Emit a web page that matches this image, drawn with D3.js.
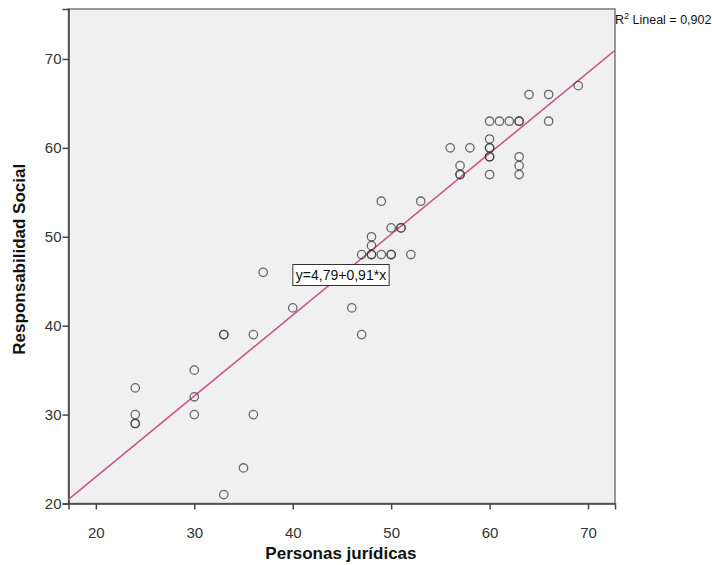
<!DOCTYPE html>
<html>
<head>
<meta charset="utf-8">
<script src="https://cdn.jsdelivr.net/npm/d3@7"></script>
<style>
  html, body { margin: 0; padding: 0; background: #ffffff; }
  svg { display: block; }
</style>
</head>
<body>
<svg id="chart" width="712" height="565"></svg>
<script>
// ---- data ----
const personasJuridicas = [24, 24, 24, 24, 30, 30, 30, 33, 33, 33, 35, 36, 36, 37, 40, 46, 47, 47,
  48, 48, 48, 48, 49, 49, 50, 50, 50, 51, 51, 52, 53, 56, 57, 57, 57, 58,
  60, 60, 60, 60, 60, 60, 60, 61, 62, 63, 63, 63, 63, 63, 64, 66, 66, 69];
const responsabilidadSocial = [33, 30, 29, 29, 35, 32, 30, 39, 39, 21, 24, 39, 30, 46, 42, 42, 39, 48,
  50, 49, 48, 48, 54, 48, 51, 48, 48, 51, 51, 48, 54, 60, 58, 57, 57, 60,
  63, 61, 60, 60, 59, 59, 57, 63, 63, 63, 63, 59, 58, 57, 66, 66, 63, 67];
const xTicks = [20, 30, 40, 50, 60, 70];
const yTicks = [20, 30, 40, 50, 60, 70];
const intercept = 4.79;
const slope = 0.91;
const fitLabel = "y=4,79+0,91*x";
const r2Label = "Lineal = 0,902";
const xTitle = "Personas jurídicas";
const yTitle = "Responsabilidad Social";

// ---- layout ----
const L = 68.5, R = 615, T = 9, B = 503.5;
const FONT = "'Liberation Sans', Arial, sans-serif";
const svg = d3.select("#chart");
const x = d3.scaleLinear().domain([17.22, 72.74]).range([L, R]);
const y = d3.scaleLinear().domain([20, 75.62]).range([B, T]);

// plot background
svg.append("rect").attr("x", L).attr("y", T).attr("width", R - L).attr("height", B - T)
  .attr("fill", "#f0f0f0").attr("stroke", "#7a7a7a").attr("stroke-width", 1.5);

// clip
svg.append("clipPath").attr("id", "clip").append("rect")
  .attr("x", L).attr("y", T).attr("width", R - L).attr("height", B - T);

// axes
const xAxis = d3.axisBottom(x).tickValues(xTicks).tickSize(6).tickFormat(d3.format("d"));
const yAxis = d3.axisLeft(y).tickValues(yTicks).tickSize(6).tickFormat(d3.format("d"));

const gx = svg.append("g").attr("transform", `translate(0,${B})`).call(xAxis);
const gy = svg.append("g").attr("transform", `translate(${L},0)`).call(yAxis);
[gx, gy].forEach(g => {
  g.select(".domain").attr("stroke", "#444").attr("stroke-width", 1.5);
  g.selectAll(".tick line").attr("stroke", "#444").attr("stroke-width", 1.5);
  g.selectAll(".tick text").attr("fill", "#333")
    .style("font-family", FONT).style("font-size", "15px");
});
gx.selectAll(".tick text").attr("dy", "0").attr("y", 34);
gy.selectAll(".tick text").attr("x", -7);

// fit line
const plot = svg.append("g").attr("clip-path", "url(#clip)");
const xd = x.domain();
plot.append("line")
  .attr("x1", x(xd[0])).attr("y1", y(intercept + slope * xd[0]))
  .attr("x2", x(xd[1])).attr("y2", y(intercept + slope * xd[1]))
  .attr("stroke", "#cc4f8a").attr("stroke-width", 1.5);

// points
plot.selectAll("circle.pt").data(personasJuridicas.map((d, i) => [d, responsabilidadSocial[i]]))
  .enter().append("circle").attr("class", "pt")
  .attr("cx", d => x(d[0])).attr("cy", d => y(d[1])).attr("r", 4.2)
  .attr("fill", "none").attr("stroke", "#3a3a3a").attr("stroke-opacity", 0.75).attr("stroke-width", 1.3);

// equation label
const lx = 341, ly = 275;
const lab = svg.append("g");
const t = lab.append("text").attr("x", lx).attr("y", ly).attr("text-anchor", "middle")
  .attr("dominant-baseline", "central")
  .style("font-family", FONT).style("font-size", "14px")
  .attr("fill", "#111").text(fitLabel);
const bb = t.node().getBBox();
lab.insert("rect", "text").attr("x", bb.x - 3).attr("y", bb.y - 2.5)
  .attr("width", bb.width + 6).attr("height", bb.height + 5)
  .attr("fill", "#ffffff").attr("stroke", "#333").attr("stroke-width", 1);

// R2 label
const r2 = svg.append("text").attr("x", R).attr("y", 24)
  .style("font-family", FONT).style("font-size", "12.5px").attr("fill", "#111");
r2.append("tspan").text("R");
r2.append("tspan").attr("dy", -5).style("font-size", "9px").text("2");
r2.append("tspan").attr("dy", 5).text(" " + r2Label);

// axis titles
svg.append("text").attr("x", (x(20) + x(70)) / 2 - 1).attr("y", 559).attr("text-anchor", "middle")
  .style("font-family", FONT).style("font-size", "17px")
  .style("font-weight", "bold").attr("fill", "#111").text(xTitle);
svg.append("text").attr("transform", `translate(25,${(T + B) / 2 + 3}) rotate(-90)`)
  .attr("text-anchor", "middle")
  .style("font-family", FONT).style("font-size", "17px")
  .style("font-weight", "bold").attr("fill", "#111").text(yTitle);
</script>
</body>
</html>
